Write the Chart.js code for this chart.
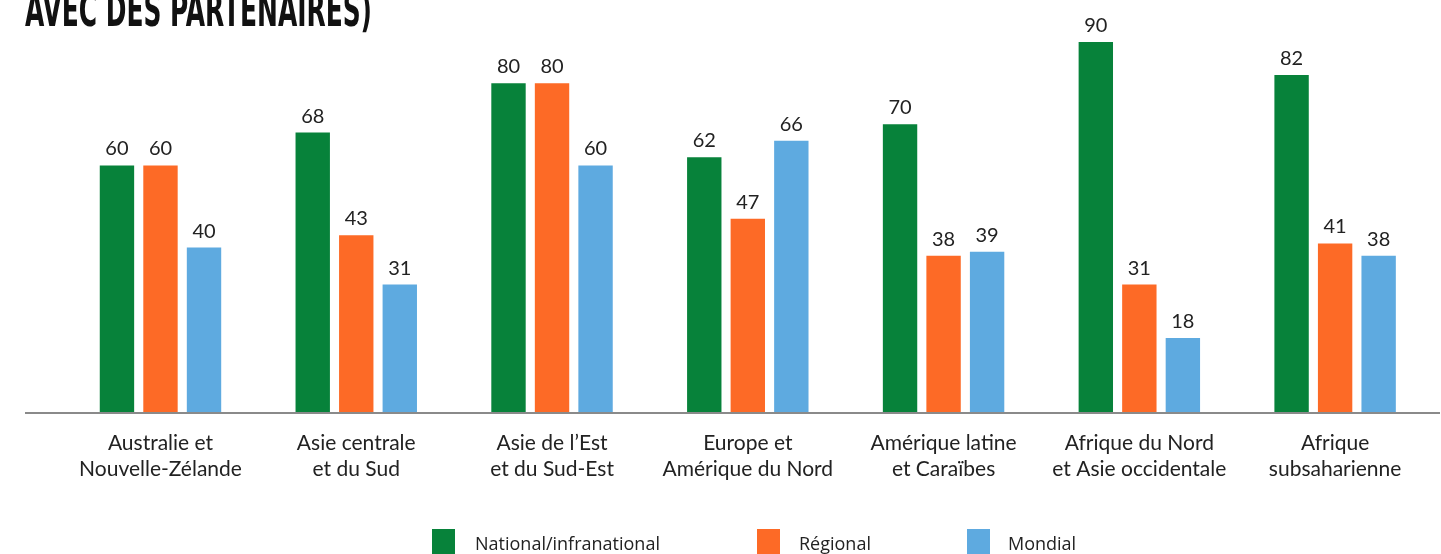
<!DOCTYPE html>
<html>
<head>
<meta charset="utf-8">
<script src="https://cdn.jsdelivr.net/npm/chart.js@4.4.0/dist/chart.umd.min.js"></script>
<style>
  html, body { margin: 0; padding: 0; background: #fff; }
  #wrap { position: relative; width: 1441px; height: 554px; overflow: hidden; }
  #legend { position: absolute; left: 0; top: 529px; width: 1441px; height: 25px; font-family: "Open Sans", sans-serif; font-size: 18px; color: #222; }
  .box { position: absolute; top: 0; width: 23px; height: 25px; }
  .lbl { position: absolute; top: 2px; white-space: nowrap; }
</style>
</head>
<body>
<div id="wrap">
  <canvas id="mycanvas" width="1441" height="554"></canvas>
  <div id="legend"></div>
</div>
<script>
var title = "AVEC DES PARTENAIRES)";
var regions = [
  ["Australie et", "Nouvelle-Zélande"],
  ["Asie centrale", "et du Sud"],
  ["Asie de l\u2019Est", "et du Sud-Est"],
  ["Europe et", "Amérique du Nord"],
  ["Amérique latine", "et Caraïbes"],
  ["Afrique du Nord", "et Asie occidentale"],
  ["Afrique", "subsaharienne"]
];
var seriesNames = ["National/infranational", "Régional", "Mondial"];
var national = [60, 68, 80, 62, 70, 90, 82];
var regional = [60, 43, 80, 47, 38, 31, 41];
var mondial  = [40, 31, 60, 66, 39, 18, 38];
var colors = ["#07823A", "#FD6A26", "#5EAAE0"];

// legend positions (box x, text x)
var legendPos = [[432, 475], [757, 799], [967, 1008]];
var legendHtml = "";
for (var i = 0; i < seriesNames.length; i++) {
  legendHtml += '<div class="box" style="left:' + legendPos[i][0] + 'px;background:' + colors[i] + '"></div>';
  legendHtml += '<div class="lbl" style="left:' + legendPos[i][1] + 'px">' + seriesNames[i] + '</div>';
}
document.getElementById("legend").innerHTML = legendHtml;

var extras = {
  id: "extras",
  afterDatasetsDraw: function(chart) {
    var ctx = chart.ctx;
    // baseline
    var y0 = chart.scales.y.getPixelForValue(0);
    ctx.save();
    ctx.strokeStyle = "#8a8a8a";
    ctx.lineWidth = 2;
    ctx.beginPath();
    ctx.moveTo(25, y0 + 1);
    ctx.lineTo(1440, y0 + 1);
    ctx.stroke();
    // value labels
    ctx.fillStyle = "#222";
    ctx.font = "20px Lato";
    ctx.textAlign = "center";
    ctx.textBaseline = "alphabetic";
    chart.data.datasets.forEach(function(ds, di) {
      chart.getDatasetMeta(di).data.forEach(function(bar, i) {
        ctx.fillText(ds.data[i], bar.x, bar.y - 10);
      });
    });
    // title (clipped at top)
    ctx.fillStyle = "#111";
    ctx.font = "bold 46px 'DejaVu Sans Condensed', 'DejaVu Sans', sans-serif";
    ctx.textAlign = "left";
    var w = ctx.measureText(title).width;
    ctx.translate(25, 26);
    ctx.scale(347 / w, 1);
    ctx.fillText(title, 0, 0);
    ctx.restore();
  }
};

var ctx = document.getElementById("mycanvas");
var chart = new Chart(ctx, {
  type: "bar",
  data: {
    labels: regions,
    datasets: [
      { label: seriesNames[0], data: national, backgroundColor: colors[0] },
      { label: seriesNames[1], data: regional, backgroundColor: colors[1] },
      { label: seriesNames[2], data: mondial, backgroundColor: colors[2] }
    ]
  },
  options: {
    responsive: false,
    animation: false,
    layout: { padding: { left: 62.6, right: 8, top: 1, bottom: 0 } },
    datasets: { bar: { categoryPercentage: 0.667, barPercentage: 0.79 } },
    plugins: { legend: { display: false }, tooltip: { enabled: false } },
    scales: {
      x: {
        grid: { display: false },
        border: { display: false },
        ticks: {
          color: "#222",
          font: { family: "Lato", size: 21, lineHeight: 1.2 },
          padding: 11,
          maxRotation: 0,
          autoSkip: false
        },
        afterFit: function(s) { s.height = 142; }
      },
      y: {
        display: false,
        min: 0,
        max: 100
      }
    }
  },
  plugins: [extras]
});
</script>
</body>
</html>
